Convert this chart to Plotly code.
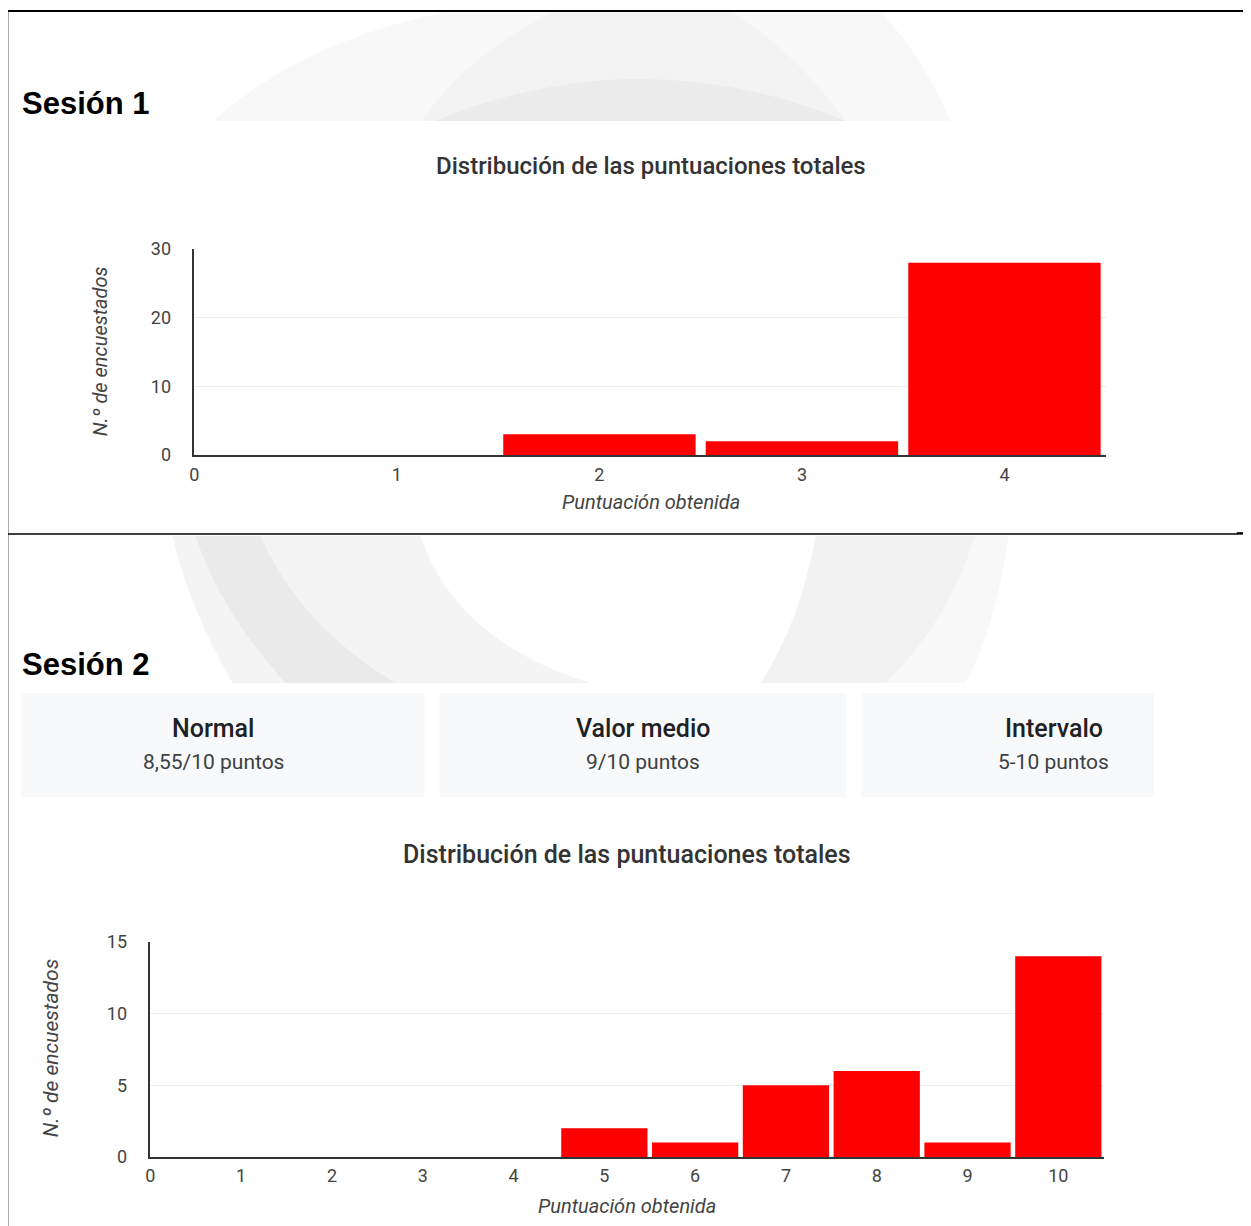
import plotly.graph_objects as go

# reference canvas size and figure size (page body keeps an 8px margin)
W, H = 1251, 1226
OFF = 8
FW, FH = W - 2 * OFF, H - 2 * OFF + 22

# small calibration of page -> picture mapping
CX_A, CX_B = 4.7, 0.9956
CY_A, CY_B = 10.2, 0.983

# ---------------- data ----------------
s1_scores = [0, 1, 2, 3, 4]
s1_counts = [0, 0, 3, 2, 28]
s1_yticks = [0, 10, 20, 30]

s2_scores = [0, 1, 2, 3, 4, 5, 6, 7, 8, 9, 10]
s2_counts = [0, 0, 0, 0, 0, 2, 1, 5, 6, 1, 14]
s2_yticks = [0, 5, 10, 15]

card_titles = ["Normal", "Valor medio", "Intervalo"]
card_values = ["8,55/10 puntos", "9/10 puntos", "5-10 puntos"]

section_titles = ["Sesión 1", "Sesión 2"]
chart_title = "Distribución de las puntuaciones totales"
x_title = "Puntuación obtenida"
y_title = "N.º de encuestados"


def px(x):
    page = (x - CX_A) / CX_B
    return (page - OFF) / FW


def py(y):
    page = (y - CY_A) / CY_B
    return 1 - (page - OFF) / FH


RED = "#ff0000"
TICK = "#444444"

fig = go.Figure()
fig.add_trace(go.Bar(x=s1_scores, y=s1_counts, marker=dict(color=RED, line=dict(width=0)),
                     xaxis="x", yaxis="y", showlegend=False, hoverinfo="x+y"))
fig.add_trace(go.Bar(x=s2_scores, y=s2_counts, marker=dict(color=RED, line=dict(width=0)),
                     xaxis="x2", yaxis="y2", showlegend=False, hoverinfo="x+y"))

axis_font = dict(family="Roboto, Arial, sans-serif", size=18, color=TICK)


def xax(domain, rng, ticks, anchor):
    return dict(domain=domain, range=rng, tickvals=ticks, ticktext=[str(t) for t in ticks],
                showgrid=False, zeroline=False, showline=True, linecolor="#333333", linewidth=2,
                ticks="", tickfont=axis_font, anchor=anchor, fixedrange=True,
                ticklabelstandoff=2)


def yax(domain, rng, ticks, anchor):
    return dict(domain=domain, range=rng, tickvals=ticks, ticktext=[str(t) for t in ticks],
                showgrid=True, gridcolor="#ececec", gridwidth=1, zeroline=False,
                showline=True, linecolor="#333333", linewidth=1.5, ticks="",
                tickfont=axis_font, anchor=anchor, fixedrange=True, ticklabelstandoff=18)


shapes = []


def path_shape(d, color):
    shapes.append(dict(type="path", xref="paper", yref="paper", path=d,
                       fillcolor=color, line=dict(width=0), layer="below"))


def P(pts):
    out = []
    for item in pts:
        cmd = item[0]
        nums = item[1:]
        conv = []
        for i in range(0, len(nums), 2):
            conv.append(f"{px(nums[i]):.5f},{py(nums[i+1]):.5f}")
        out.append(cmd + " " + " ".join(conv))
    return " ".join(out) + " Z"


# --- faint watermark (top section) ---
path_shape(P([("M", 212, 121), ("Q", 300, 40, 450, 10), ("L", 880, 10), ("Q", 925, 60, 950, 121)]), "#f8f8f8")
path_shape(P([("M", 420, 121), ("Q", 470, 50, 555, 10), ("L", 730, 10), ("Q", 800, 55, 845, 121)]), "#f3f3f4")
path_shape(P([("M", 432, 121), ("Q", 640, 35, 848, 121)]), "#ebebec")
# --- faint watermark (second section) ---
path_shape(P([("M", 172, 535), ("L", 420, 535), ("Q", 455, 640, 590, 682), ("L", 232, 682), ("Q", 190, 610, 172, 535)]), "#f4f4f5")
path_shape(P([("M", 195, 535), ("L", 260, 535), ("Q", 300, 625, 395, 682), ("L", 285, 682), ("Q", 220, 610, 195, 535)]), "#eaeaeb")
path_shape(P([("M", 815, 535), ("L", 975, 535), ("Q", 945, 625, 885, 682), ("L", 760, 682), ("Q", 800, 620, 815, 535)]), "#f2f2f2")
path_shape(P([("M", 975, 535), ("L", 1008, 535), ("Q", 995, 625, 965, 682), ("L", 885, 682), ("Q", 945, 625, 975, 535)]), "#f8f8f8")

# white panels hiding the watermark behind the charts
shapes.append(dict(type="rect", xref="paper", yref="paper", x0=px(8), x1=px(1260), y0=py(533), y1=py(120),
                   fillcolor="white", line=dict(width=0), layer="below"))
shapes.append(dict(type="rect", xref="paper", yref="paper", x0=px(8), x1=px(1260), y0=py(1240), y1=py(682),
                   fillcolor="white", line=dict(width=0), layer="below"))

# summary cards
card_boxes = [(21, 424), (439, 846), (861, 1153)]
for (a, b) in card_boxes:
    shapes.append(dict(type="rect", xref="paper", yref="paper", x0=px(a), x1=px(b), y0=py(796), y1=py(692),
                       fillcolor="#f8f9fa", line=dict(width=0), layer="below"))


def line(x0, y0, x1, y1, w):
    shapes.append(dict(type="line", xref="paper", yref="paper", x0=px(x0), y0=py(y0), x1=px(x1), y1=py(y1),
                       line=dict(color="black", width=w), layer="above"))


line(6, 10, 1260, 10, 2)
line(7, 9, 7, 1240, 2)
line(7, 533, 1237, 533, 1.5)
line(1236, 532.5, 1260, 532.5, 2.5)

annotations = []


def text(x, y, s, size, color, family="Roboto, Arial, sans-serif", weight=400, xanchor="center",
         italic=False, angle=0):
    annotations.append(dict(x=px(x), y=py(y), xref="paper", yref="paper", text=s, showarrow=False,
                            xanchor=xanchor, yanchor="middle", textangle=angle,
                            font=dict(family=family, size=size, color=color, weight=weight,
                                      style="italic" if italic else "normal")))


# section headings
text(20, 103, section_titles[0], 31, "black", family="Liberation Sans, Arial, sans-serif", weight=700, xanchor="left")
text(20, 664, section_titles[1], 31, "black", family="Liberation Sans, Arial, sans-serif", weight=700, xanchor="left")

# chart titles
text(650, 165, chart_title, 24, "#333333", weight=500)
text(626, 854, chart_title, 25, "#333333", weight=500)

# axis titles
text(650, 501, x_title, 20, TICK, italic=True)
text(626, 1205, x_title, 20, TICK, italic=True)
text(100, 350, y_title, 20, TICK, italic=True, angle=-90)
text(51, 1047, y_title, 21, TICK, italic=True, angle=-90)

# cards text
card_centers = [213, 642, 1053]
for cx, t, v in zip(card_centers, card_titles, card_values):
    text(cx, 728, t, 25, "#202124", weight=500)
    text(cx, 761, v, 21, "#3c4043")

fig.update_layout(
    width=FW, height=FH,
    margin=dict(l=0, r=0, t=0, b=0),
    paper_bgcolor="white", plot_bgcolor="rgba(0,0,0,0)",
    bargap=0.05,
    xaxis=xax([px(194), px(1105)], [0, 4.5], s1_scores, "y"),
    yaxis=yax([py(454), py(248)], [0, 30], s1_yticks, "x"),
    xaxis2=xax([px(150), px(1103)], [0, 10.5], s2_scores, "y2"),
    yaxis2=yax([py(1156), py(941)], [0, 15], s2_yticks, "x2"),
    shapes=shapes,
    annotations=annotations,
    showlegend=False,
)

fig.write_html("out.html", config={"displayModeBar": False})
